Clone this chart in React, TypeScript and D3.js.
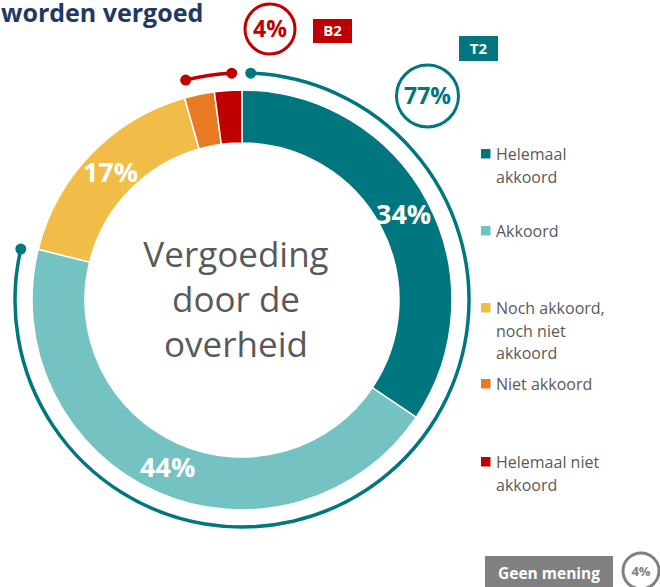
import React from "react";
import * as d3 from "d3";

const categories = ["Helemaal akkoord", "Akkoord", "Noch akkoord, noch niet akkoord", "Niet akkoord", "Helemaal niet akkoord"];
const values = [34.4, 44.4, 16.7, 2.3, 2.1];
const valueLabels = ["34%", "44%", "17%", "", ""];
const legendLines = [["Helemaal", "akkoord"], ["Akkoord"], ["Noch akkoord,", "noch niet", "akkoord"], ["Niet akkoord"], ["Helemaal niet", "akkoord"]];
const legendY = [149, 226, 303, 379, 457];
const colors = ["#00767f", "#74c3c2", "#f1bd48", "#e97a24", "#c00000"];
const centerLines = ["Vergoeding", "door de", "overheid"];
const t2Label = "77%";
const b2Label = "4%";
const noOpinionLabel = "4%";

const W = 660, H = 587;
const cx = 242, cy = 300;
const rOuter = 210, rInner = 157, rBracket = 227;
const FONT = "'Open Sans', sans-serif";

export default function App() {
  const pie = d3.pie<number>().sort(null).value((d) => d);
  const arcs = pie(values);
  const arc = d3.arc<d3.PieArcDatum<number>>().innerRadius(rInner).outerRadius(rOuter);
  const labelArc = d3.arc<d3.PieArcDatum<number>>().innerRadius(183).outerRadius(183);
  const deg = Math.PI / 180;
  const pad = 2.2 * deg;

  const bracket = (a0: number, a1: number) =>
    d3.arc()({ innerRadius: rBracket, outerRadius: rBracket, startAngle: a0, endAngle: a1 } as any) as string;
  const pt = (a: number) => [cx + rBracket * Math.sin(a), cy - rBracket * Math.cos(a)];

  const t2a0 = arcs[0].startAngle + pad;
  const t2a1 = arcs[1].endAngle - 1.0 * deg;
  const b2a0 = arcs[3].startAngle + 1.5 * deg;
  const b2a1 = arcs[4].endAngle - 2.6 * deg;

  const tStart = pt(t2a0), tEnd = pt(t2a1), bStart = pt(b2a0), bEnd = pt(b2a1);

  return (
    <svg width={W} height={H} style={{ position: "absolute", left: 0, top: 0, background: "#fff" }} fontFamily={FONT}>
      <text x={1} y={22} fontSize={25} fontWeight={700} fill="#1f3864">worden vergoed</text>

      <g transform={`translate(${cx},${cy})`}>
        {arcs.map((a, i) => (
          <path key={i} d={arc(a) as string} fill={colors[i]} stroke="#fff" strokeWidth={1.5} />
        ))}
        {arcs.map((a, i) => {
          const [x, y] = labelArc.centroid(a);
          return valueLabels[i] ? (
            <text key={i} x={x} y={y} dy="0.36em" textAnchor="middle" fontSize={27} fontWeight={700} fill="#fff">{valueLabels[i]}</text>
          ) : null;
        })}
        <path d={bracket(t2a0, t2a1)} fill="none" stroke="#00767f" strokeWidth={3.5} />
        <path d={bracket(b2a0, b2a1)} fill="none" stroke="#c00000" strokeWidth={3.5} />
      </g>
      <circle cx={tStart[0]} cy={tStart[1]} r={5.5} fill="#00767f" />
      <circle cx={tEnd[0]} cy={tEnd[1]} r={5.5} fill="#00767f" />
      <circle cx={bStart[0]} cy={bStart[1]} r={5.5} fill="#c00000" />
      <circle cx={bEnd[0]} cy={bEnd[1]} r={5.5} fill="#c00000" />

      {centerLines.map((l, i) => (
        <text key={i} x={236} y={267 + i * 45} textAnchor="middle" fontSize={35} fill="#595959">{l}</text>
      ))}

      <circle cx={270} cy={29} r={25} fill="#fff" stroke="#c00000" strokeWidth={3} />
      <text x={270} y={29} dy="0.36em" textAnchor="middle" fontSize={23} fontWeight={700} fill="#c00000">{b2Label}</text>
      <rect x={313} y={19} width={39} height={24} fill="#c00000" />
      <text x={332.5} y={31} dy="0.36em" textAnchor="middle" fontSize={15} fontWeight={700} fill="#fff">B2</text>

      <rect x={459} y={36} width={39} height={25} fill="#00767f" />
      <text x={478.5} y={48.5} dy="0.36em" textAnchor="middle" fontSize={15} fontWeight={700} fill="#fff">T2</text>
      <circle cx={427.5} cy={96} r={31} fill="#fff" stroke="#00767f" strokeWidth={3} />
      <text x={427.5} y={96} dy="0.36em" textAnchor="middle" fontSize={23} fontWeight={700} fill="#00767f">{t2Label}</text>

      {categories.map((c, i) => (
        <g key={c}>
          <rect x={481} y={legendY[i]} width={9.5} height={9.5} fill={colors[i]} />
          {legendLines[i].map((ln, j) => (
            <text key={j} x={496} y={legendY[i] + 11 + j * 22.7} fontSize={16} fill="#595959">{ln}</text>
          ))}
        </g>
      ))}

      <rect x={485} y={556} width={128} height={35} fill="#808080" />
      <text x={549} y={573} dy="0.36em" textAnchor="middle" fontSize={15.5} fontWeight={700} fill="#fff">Geen mening</text>
      <circle cx={641} cy={571} r={18} fill="#fff" stroke="#808080" strokeWidth={3} />
      <text x={641} y={571} dy="0.36em" textAnchor="middle" fontSize={13} fontWeight={700} fill="#808080">{noOpinionLabel}</text>
    </svg>
  );
}
